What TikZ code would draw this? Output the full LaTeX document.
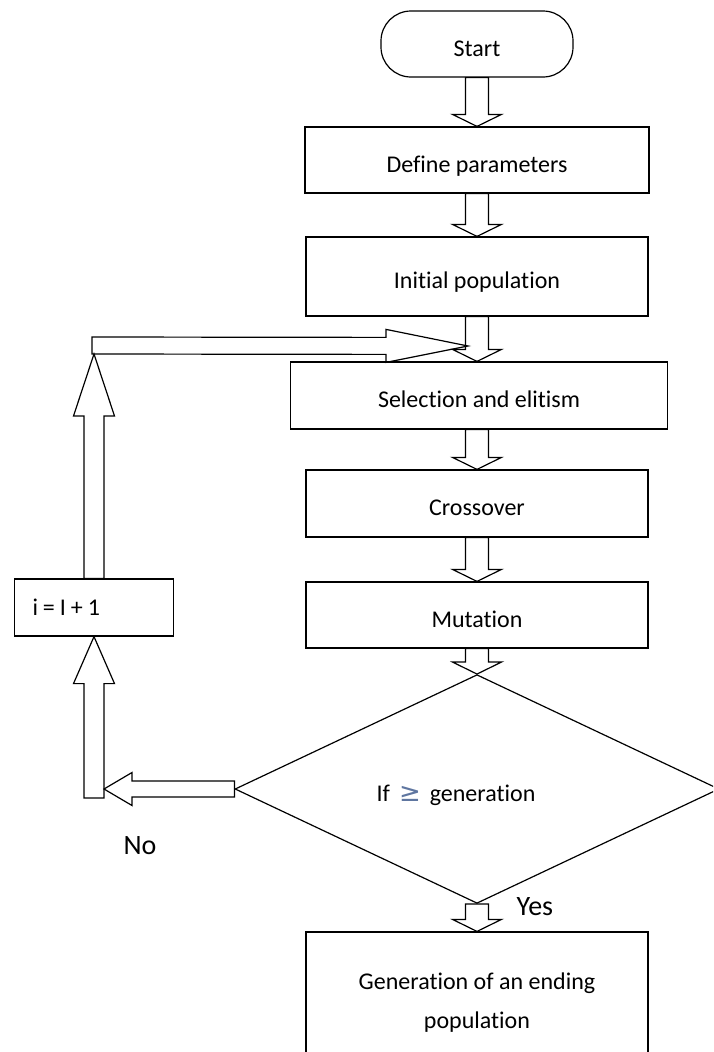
\documentclass[tikz,border=0pt]{standalone}
\usepackage{fontspec}
\setmainfont{Carlito}[Ligatures=NoCommon]
\newfontfamily\symfont{DejaVu Sans}
\usetikzlibrary{shapes.geometric,calc}
\definecolor{geblue}{RGB}{95,118,160}

% hollow block arrow: from, to, shaft half width, head half width, head length
\newcommand{\blockarrow}[5]{%
  \coordinate (ba) at ($(#2)!#5!(#1)$);
  \draw ($(#1)!#3!90:(#2)$) -- ($(ba)!#3!90:(#2)$) -- ($(ba)!#4!90:(#2)$) -- (#2)
    -- ($(ba)!#4!-90:(#2)$) -- ($(ba)!#3!-90:(#2)$) -- ($(#1)!#3!-90:(#2)$) -- cycle;}
\newcommand{\flowarrow}[2]{\blockarrow{#1}{#2}{11.5pt}{24.5pt}{12pt}}

\begin{document}
\begin{tikzpicture}[x={(1pt,0pt)}, y={(0pt,-1pt)}, line width=1.2pt]
  \tikzstyle{box}=[draw, rectangle, minimum height=66pt, inner sep=0pt, font=\fontsize{24}{39}\selectfont]
  \tikzstyle{low}=[text height=26pt, text depth=2pt]
  \tikzstyle{answer}=[anchor=west, inner sep=0pt, font=\fontsize{28}{34}\selectfont]

\useasboundingbox (0,0) rectangle (713,1052);
\clip (0,0) rectangle (713,1052);

\node[box, low, rounded corners=30pt, minimum width=192pt] (start) at (477,44) {Start};
\node[box, low, minimum width=344pt] (def) at (477,160) {Define parameters};
\node[box, low, minimum width=342pt, minimum height=79pt] (init) at (477,276.5) {Initial population};
\node[box, low, minimum width=377pt, minimum height=67pt] (sel) at (479,395.5) {Selection and elitism};
\node[box, low, minimum width=342pt, minimum height=67pt] (cross) at (477,503.5) {Crossover};
\node[box, low, minimum width=342pt] (mut) at (477,615) {Mutation};
\node[box, low, diamond, minimum width=484pt, minimum height=188pt] (dec) at (477,789)
  {If\hspace{9pt}\textcolor{geblue}{\symfont\fontsize{26}{26}\selectfont ≥}\hspace{9pt}generation\hspace*{42pt}};
\node[box, minimum width=342pt, minimum height=142pt, align=center] (final) at (477,1003)
  {Generation of an ending\\population};
\node[box, minimum width=159pt, minimum height=57pt, inner xsep=18pt, text width=123pt, align=left] (inc) at (94,607.5) {i\hspace{5pt}=\hspace{5pt}I\hspace{5pt}+\hspace{5pt}1};

\node[answer] (yes) at (516,907) {Yes};
\node[answer] (no) at (123,846) {No};

\flowarrow{start.south}{def.north}
\flowarrow{def.south}{init.north}
\flowarrow{init.south}{init.south |- sel.north}
\flowarrow{init.south |- sel.south}{cross.north}
\flowarrow{cross.south}{mut.north}
\flowarrow{mut.south}{dec.north}
\flowarrow{dec.south}{final.north}

\coordinate (elbow) at (94,798);
\coordinate (notip) at (104,789);
\coordinate (loopbot) at (94,354);
\coordinate (corner) at (92,345.5);
\coordinate (merge) at (468,346);

\blockarrow{dec.west}{notip}{8pt}{16.5pt}{28pt}
\blockarrow{elbow}{inc.south}{10pt}{20.5pt}{47pt}
\blockarrow{inc.north}{loopbot}{10pt}{20.5pt}{62pt}
\blockarrow{corner}{merge}{8.5pt}{16.5pt}{82pt}

\end{tikzpicture}
\end{document}
